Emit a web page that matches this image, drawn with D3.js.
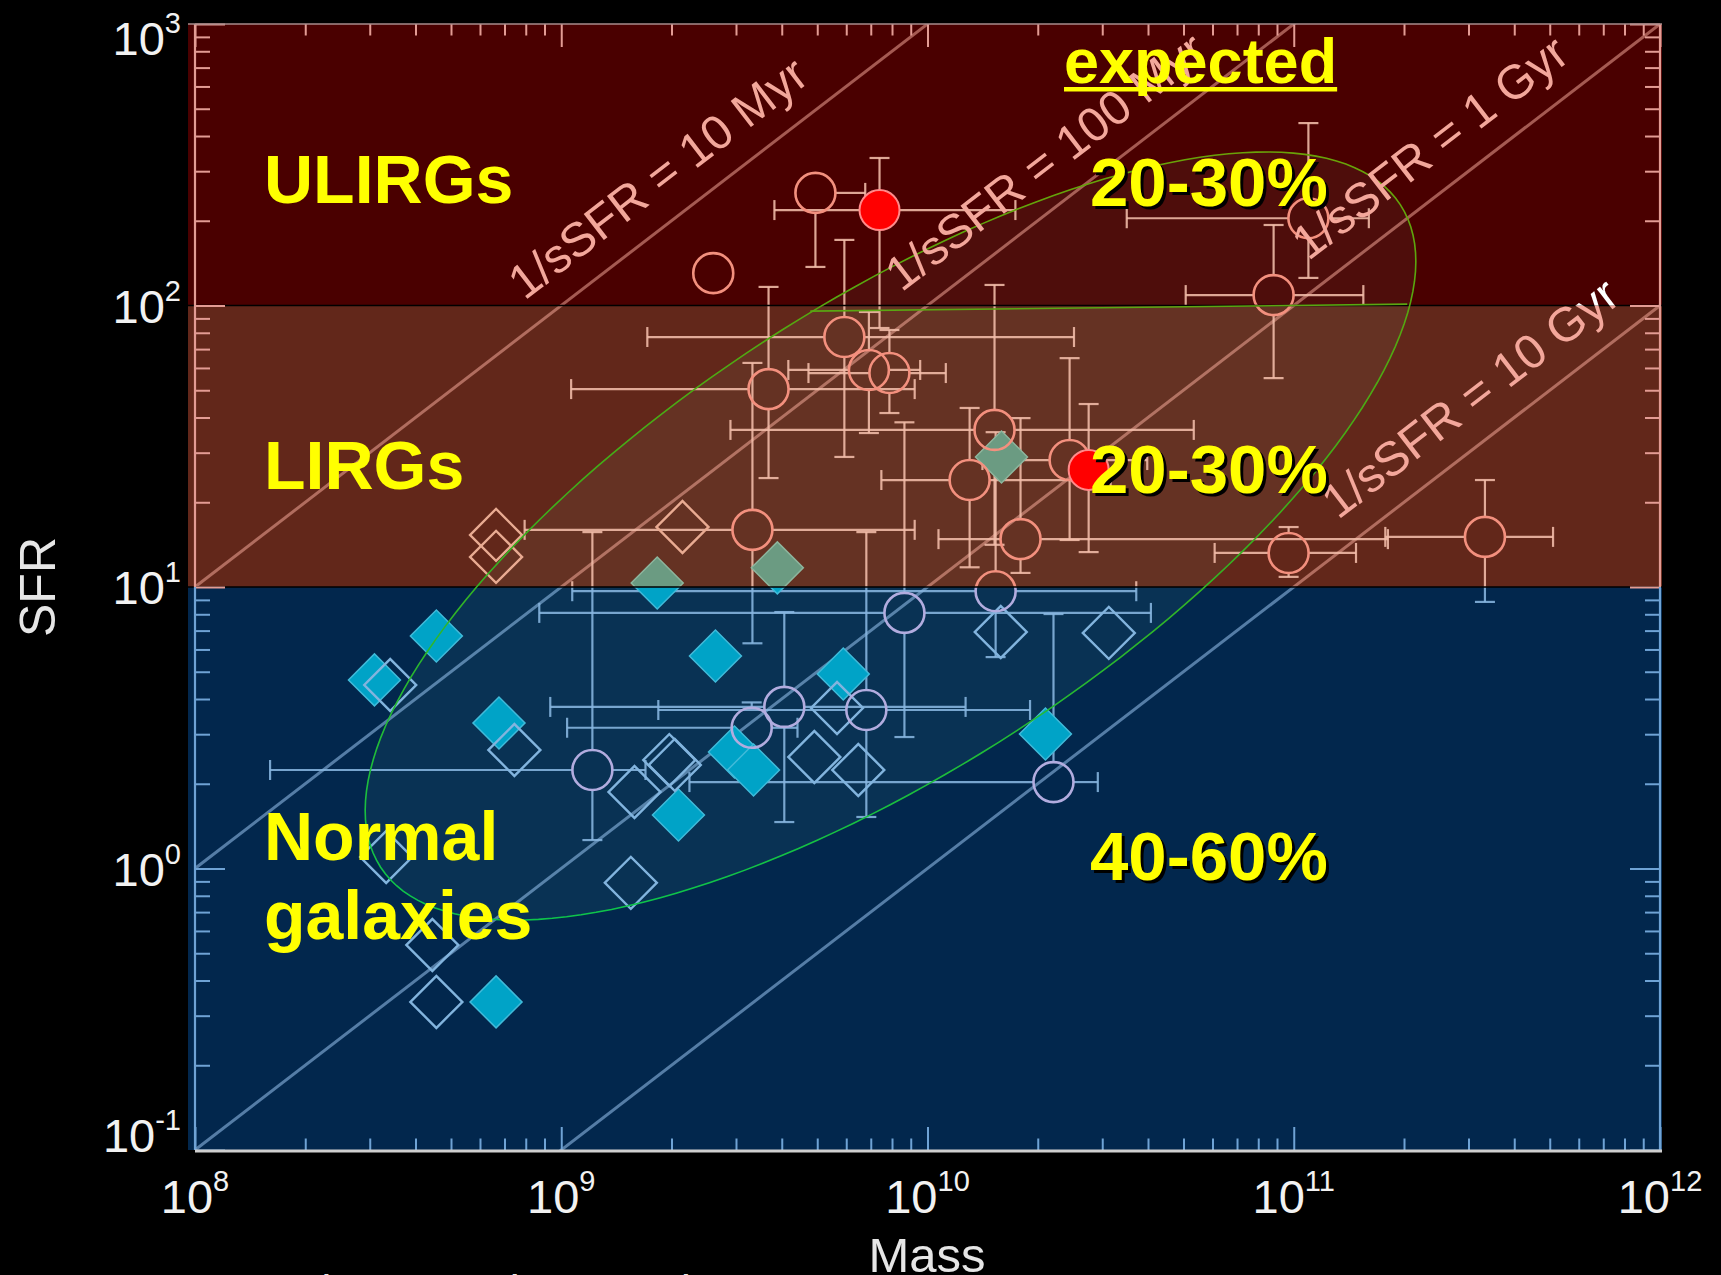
<!DOCTYPE html>
<html><head><meta charset="utf-8">
<script src="https://cdn.jsdelivr.net/npm/d3@7"></script>
<style>
html,body{margin:0;padding:0;background:#000;}
svg{display:block;}
</style></head><body>
<svg id="chart" width="1721" height="1275"></svg>
<script>
// ---------------- DATA ----------------
const massTicks = [1e8, 1e9, 1e10, 1e11, 1e12];
const massTickExp = ["8", "9", "10", "11", "12"];
const sfrTicks = [0.1, 1, 10, 100, 1000];
const sfrTickExp = ["-1", "0", "1", "2", "3"];

const bandNames = ["ULIRGs", "LIRGs", "Normal galaxies"];
const bandLimits = [[100, 1000], [10, 100], [0.1, 10]];
const bandExpected = ["20-30%", "20-30%", "40-60%"];

// 1/sSFR timescales (yr) and labels
const timescales = [1e7, 1e8, 1e9, 1e10];
const timescaleLabels = ["1/sSFR = 10 Myr", "1/sSFR = 100 Myr", "1/sSFR = 1 Gyr", "1/sSFR = 10 Gyr"];
const timescaleLabelLogM = [8.943, 9.972, 11.083, 11.164];

// open circles: [log M, log SFR, log M lo, log M hi, log SFR lo, log SFR hi]
const openCircles = [
  [9.415, 2.115, null, null, null, null],
  [9.694, 2.400, null, 9.83, 2.137, null],
  [10.945, 2.037, 10.705, 11.19, 1.742, 2.286],
  [11.040, 2.310, 10.544, 11.205, 2.098, 2.648],
  [9.773, 1.888, 9.235, 10.40, 1.462, 2.233],
  [9.566, 1.703, 9.027, 9.965, 1.387, 2.066],
  [9.840, 1.771, 9.62, 9.98, 1.547, 1.977],
  [9.896, 1.760, 9.675, 10.05, 1.618, 1.913],
  [10.183, 1.558, 9.462, 10.727, 1.15, 2.073],
  [10.186, 0.985, 9.03, 10.57, 0.751, 1.55],
  [9.937, 0.908, 8.94, 10.61, 0.467, 1.585],
  [9.522, 1.203, 8.90, 9.965, 0.80, 1.796],
  [10.115, 1.380, 9.874, 10.5, 1.07, 1.636],
  [10.388, 1.451, 10.15, 10.6, 1.167, 1.813],
  [10.254, 1.170, 10.03, 11.257, 1.05, 1.6],
  [10.986, 1.121, 10.784, 11.17, 1.036, 1.213],
  [11.522, 1.178, 11.25, 11.708, 0.947, 1.38],
  [9.085, 0.350, 8.205, 9.23, 0.101, 1.195],
  [9.609, 0.574, 8.97, 10.104, 0.165, 0.911],
  [9.520, 0.500, 9.016, 9.645, 0.41, 0.59],
  [9.833, 0.563, 9.265, 10.28, 0.183, 1.195],
  [10.344, 0.307, 9.35, 10.465, null, 0.904]
];
// filled (red) circles, same layout
const filledCircles = [
  [9.869, 2.339, 9.582, 10.24, 1.92, 2.524],
  [10.440, 1.416, null, null, 1.124, 1.65]
];
// open diamonds: [log M, log SFR]
const openDiamonds = [
  [8.822, 1.185], [8.822, 1.107], [9.331, 1.213],
  [8.533, 0.652], [8.872, 0.421], [8.522, 0.041], [8.648, -0.272], [8.659, -0.474],
  [9.190, -0.051], [9.200, 0.272], [9.295, 0.385], [9.310, 0.368], [9.691, 0.396],
  [9.811, 0.350], [9.753, 0.570], [10.200, 0.840], [10.495, 0.837]
];
// filled diamonds: [log M, log SFR]
const filledDiamonds = [
  [8.659, 0.826], [8.490, 0.670], [8.830, 0.517], [8.822, -0.474],
  [9.262, 1.014], [9.590, 1.068], [10.202, 1.462], [9.421, 0.755], [9.770, 0.691],
  [9.473, 0.414], [9.525, 0.350], [9.320, 0.190], [10.322, 0.478]
];
// selection ellipse (log M, log SFR of centre)
const ellipseCentre = [9.899, 1.181];

// ---------------- LAYOUT ----------------
const W = 1721, H = 1275;
const L = 195, R = 1660, T = 24, B = 1150;
const FONT = "'Liberation Sans', Arial, Helvetica, sans-serif";
const x = d3.scaleLog().domain([1e8, 1e12]).range([L, R]);
const y = d3.scaleLog().domain([0.1, 1000]).range([B, T]);
const P = v => Math.pow(10, v);

const svg = d3.select("#chart");
svg.append("rect").attr("width", W).attr("height", H).attr("fill", "#000");
const defs = svg.append("defs");
const yb = y(10), yu = y(100);
defs.append("clipPath").attr("id", "clipWarm").append("rect")
  .attr("x", L).attr("y", T).attr("width", R - L).attr("height", yb - T);
defs.append("clipPath").attr("id", "clipCool").append("rect")
  .attr("x", L).attr("y", yb).attr("width", R - L).attr("height", B - yb);
defs.append("clipPath").attr("id", "clipAboveU").append("rect")
  .attr("x", 0).attr("y", 0).attr("width", W).attr("height", yu);
defs.append("clipPath").attr("id", "clipBelowU").append("rect")
  .attr("x", 0).attr("y", yu).attr("width", W).attr("height", H - yu);
const grad = defs.append("linearGradient").attr("id", "ellGrad")
  .attr("gradientUnits", "userSpaceOnUse").attr("x1", 0).attr("x2", 0).attr("y1", 150).attr("y2", 900);
grad.append("stop").attr("offset", 0).attr("stop-color", "#6aa208");
grad.append("stop").attr("offset", 0.45).attr("stop-color", "#3fae18");
grad.append("stop").attr("offset", 1).attr("stop-color", "#0ec44a");

// bands
const bandColors = ["#4a0000", "#62271a", "#02274d"];
svg.selectAll("rect.band").data(bandLimits).join("rect").attr("class", "band")
  .attr("x", L - 7).attr("width", R - L + 9)
  .attr("y", d => y(d[1])).attr("height", d => y(d[0]) - y(d[1]))
  .attr("fill", (d, i) => bandColors[i]);

// ellipse geometry
const ecx = x(P(ellipseCentre[0])), ecy = y(P(ellipseCentre[1]));
const eA = 33 * Math.PI / 180, ea = 608, eb = 232;
const ellPts = d3.range(0, 361, 2).map(a => {
  const t = a * Math.PI / 180, u = ea * Math.cos(t), v = eb * Math.sin(t);
  return [ecx + u * Math.cos(eA) + v * Math.sin(eA), ecy - u * Math.sin(eA) + v * Math.cos(eA)];
});
const ellLine = d3.line().curve(d3.curveLinearClosed);
svg.append("path").attr("d", ellLine(ellPts)).attr("fill", "#a0ffe0").attr("fill-opacity", 0.05);

// ---------------- DATA LAYERS ----------------
const warm = {diag: "#ffb4a4", diagOp: 0.5, err: "#f2bdaa", circ: "#f3907e", od: "#e9ab92",
  fd: "#6b9b82", fdS: "#8db59d", fc: "#ff0000", fcS: "#ff8a8a"};
const cool = {diag: "#a8d4ff", diagOp: 0.5, err: "#88b6e0", circ: "#b2acdf", od: "#82b4de",
  fd: "#00a3c7", fdS: "#40bad9", fc: "#ff0000", fcS: "#ff8a8a"};
const rC = 20, cap = 10;

function errSegs(d) {
  const cx = x(P(d[0])), cy = y(P(d[1])), s = [];
  if (d[2] != null) { const e = x(P(d[2])); if (cx - e > rC) { s.push([e, cy, cx - rC, cy]); s.push([e, cy - cap, e, cy + cap]); } }
  if (d[3] != null) { const e = x(P(d[3])); if (e - cx > rC) { s.push([cx + rC, cy, e, cy]); s.push([e, cy - cap, e, cy + cap]); } }
  if (d[4] != null) { const e = y(P(d[4])); if (e - cy > rC) { s.push([cx, cy + rC, cx, e]); s.push([cx - cap, e, cx + cap, e]); } }
  if (d[5] != null) { const e = y(P(d[5])); if (cy - e > rC) { s.push([cx, e, cx, cy - rC]); s.push([cx - cap, e, cx + cap, e]); } }
  return s;
}
const allSegs = openCircles.concat(filledCircles).flatMap(errSegs);
const diamond = d3.symbol(d3.symbolSquare, 2 * 26 * 26);

function drawLayer(clipId, pal) {
  const g = svg.append("g").attr("clip-path", `url(#${clipId})`);
  g.selectAll("line.diag").data(timescales).join("line").attr("class", "diag")
    .attr("x1", x(1e8)).attr("y1", t => y(1e8 / t)).attr("x2", x(1e12)).attr("y2", t => y(1e12 / t))
    .attr("stroke", pal.diag).attr("stroke-opacity", pal.diagOp).attr("stroke-width", 3);
  g.append("g").selectAll("line").data(allSegs).join("line")
    .attr("x1", d => d[0]).attr("y1", d => d[1]).attr("x2", d => d[2]).attr("y2", d => d[3])
    .attr("stroke", pal.err).attr("stroke-opacity", 0.88).attr("stroke-width", 2.2);
  g.append("g").selectAll("path").data(filledDiamonds).join("path")
    .attr("d", diamond)
    .attr("transform", d => `translate(${x(P(d[0]))},${y(P(d[1]))}) rotate(45)`)
    .attr("fill", pal.fd).attr("stroke", pal.fdS).attr("stroke-width", 1.5);
  g.append("g").selectAll("path").data(openDiamonds).join("path")
    .attr("d", diamond)
    .attr("transform", d => `translate(${x(P(d[0]))},${y(P(d[1]))}) rotate(45)`)
    .attr("fill", "none").attr("stroke", pal.od).attr("stroke-width", 2.4);
  g.append("g").selectAll("circle").data(openCircles).join("circle")
    .attr("cx", d => x(P(d[0]))).attr("cy", d => y(P(d[1]))).attr("r", rC)
    .attr("fill", "none").attr("stroke", pal.circ).attr("stroke-width", 2.6);
  g.append("g").selectAll("circle").data(filledCircles).join("circle")
    .attr("cx", d => x(P(d[0]))).attr("cy", d => y(P(d[1]))).attr("r", rC)
    .attr("fill", pal.fc).attr("stroke", pal.fcS).attr("stroke-width", 2);
}
drawLayer("clipWarm", warm);
drawLayer("clipCool", cool);

// band boundaries
svg.selectAll("line.bound").data([100, 10]).join("line").attr("class", "bound")
  .attr("x1", L - 7).attr("x2", R + 2).attr("y1", d => y(d)).attr("y2", d => y(d))
  .attr("stroke", "#000").attr("stroke-width", 1.6);

// ---------------- AXES ----------------
const minorM = [], minorS = [];
for (let e = 8; e < 12; e++) for (let k = 2; k <= 9; k++) minorM.push(k * Math.pow(10, e));
for (let e = -1; e < 3; e++) for (let k = 2; k <= 9; k++) minorS.push(k * Math.pow(10, e));
const warmTick = "#e39c94", coolTick = "#6fa3d5";
const sCol = v => v >= 10 ? warmTick : coolTick;
function tidy(sel, col) {
  sel.select(".domain").remove();
  sel.selectAll(".tick text").remove();
  sel.selectAll(".tick line").attr("stroke", col).attr("stroke-width", 2);
}
// bottom
svg.append("g").attr("transform", `translate(0,${B})`)
  .call(d3.axisTop(x).tickValues(minorM).tickSize(11.5).tickFormat(""))
  .call(s => tidy(s, coolTick));
svg.append("g").attr("transform", `translate(0,${B})`)
  .call(d3.axisTop(x).tickValues(massTicks).tickSize(23).tickFormat(""))
  .call(s => tidy(s, coolTick));
// top
svg.append("g").attr("transform", `translate(0,${T})`)
  .call(d3.axisBottom(x).tickValues(minorM).tickSize(11.5).tickFormat(""))
  .call(s => tidy(s, warmTick));
svg.append("g").attr("transform", `translate(0,${T})`)
  .call(d3.axisBottom(x).tickValues(massTicks).tickSize(23).tickFormat(""))
  .call(s => tidy(s, warmTick));
// left
svg.append("g").attr("transform", `translate(${L},0)`)
  .call(d3.axisRight(y).tickValues(minorS).tickSize(15).tickFormat(""))
  .call(s => tidy(s, sCol));
svg.append("g").attr("transform", `translate(${L},0)`)
  .call(d3.axisRight(y).tickValues(sfrTicks).tickSize(30).tickFormat(""))
  .call(s => tidy(s, sCol));
// right
svg.append("g").attr("transform", `translate(${R},0)`)
  .call(d3.axisLeft(y).tickValues(minorS).tickSize(15).tickFormat(""))
  .call(s => tidy(s, sCol));
svg.append("g").attr("transform", `translate(${R},0)`)
  .call(d3.axisLeft(y).tickValues(sfrTicks).tickSize(30).tickFormat(""))
  .call(s => tidy(s, sCol));
// axis lines
[L, R].forEach(xx => {
  svg.append("line").attr("x1", xx).attr("x2", xx).attr("y1", T).attr("y2", yb).attr("stroke", warmTick).attr("stroke-width", 2.2);
  svg.append("line").attr("x1", xx).attr("x2", xx).attr("y1", yb).attr("y2", B).attr("stroke", coolTick).attr("stroke-width", 2.2);
});
svg.append("line").attr("x1", L - 7).attr("x2", R + 2).attr("y1", T).attr("y2", T).attr("stroke", "#a88c8c").attr("stroke-width", 1.5);
svg.append("line").attr("x1", L).attr("x2", R + 2).attr("y1", B + 1).attr("y2", B + 1).attr("stroke", "#cfcfcf").attr("stroke-width", 3);

// tick labels
const xl = svg.append("g").selectAll("text").data(massTicks).join("text")
  .attr("x", d => x(d)).attr("y", 1213).attr("text-anchor", "middle")
  .attr("font-family", FONT).attr("fill", "#f2f2f2");
xl.append("tspan").attr("font-size", 47).text("10");
xl.append("tspan").attr("font-size", 29).attr("dy", -22).text((d, i) => massTickExp[i]);
const yShift = v => v === 1000 ? 31 : (v === 0.1 ? 2 : 17);
const ylab = svg.append("g").selectAll("text").data(sfrTicks).join("text")
  .attr("x", 181).attr("y", d => y(d) + yShift(d)).attr("text-anchor", "end")
  .attr("font-family", FONT).attr("fill", "#f2f2f2");
ylab.append("tspan").attr("font-size", 47).text("10");
ylab.append("tspan").attr("font-size", 29).attr("dy", -22).text((d, i) => sfrTickExp[i]);

// axis titles
svg.append("text").attr("transform", "translate(55,587) rotate(-90)").attr("text-anchor", "middle")
  .attr("font-family", FONT).attr("font-size", 50).attr("fill", "#e6e6e6").text("SFR");
svg.append("text").attr("x", 927).attr("y", 1272).attr("text-anchor", "middle")
  .attr("font-family", FONT).attr("font-size", 49).attr("fill", "#e6e6e6").text("Mass");
svg.append("text").attr("x", 248).attr("y", 1306)
  .attr("font-family", FONT).attr("font-size", 44).attr("fill", "#e6e6e6").text("et al. 2009; Chary et al. 2010");

// ellipse outline + boundary segment
svg.append("path").attr("d", ellLine(ellPts)).attr("fill", "none")
  .attr("stroke", "url(#ellGrad)").attr("stroke-width", 1.6);
svg.append("line").attr("x1", x(P(9.68))).attr("y1", y(P(1.98))).attr("x2", x(P(11.31))).attr("y2", y(P(2.005)))
  .attr("stroke", "#5aa612").attr("stroke-width", 1.6);

// timescale labels
const ang = Math.atan2(y(1) - y(10), x(1e9) - x(1e8)) * 180 / Math.PI;
function tsLabel(i, col, clip) {
  const m = P(timescaleLabelLogM[i]);
  const holder = svg.append("g");
  if (clip) holder.attr("clip-path", `url(#${clip})`);
  holder.append("text")
    .attr("transform", `translate(${x(m)},${y(m / timescales[i])}) rotate(${-ang}) translate(0,-26)`)
    .attr("font-family", FONT).attr("font-size", 48).attr("fill", col).text(timescaleLabels[i]);
}
timescales.forEach((d, i) => {
  if (i === 3) { tsLabel(i, "#f3a79b", "clipBelowU"); tsLabel(i, "#ffffff", "clipAboveU"); }
  else tsLabel(i, "#f3a79b", null);
});

// region names
const nameG = svg.append("g").attr("font-family", FONT).attr("font-weight", "bold")
  .attr("font-size", 68).attr("fill", "#ffff00");
nameG.append("text").attr("x", 264).attr("y", 203).text(bandNames[0]);
nameG.append("text").attr("x", 264).attr("y", 489).text(bandNames[1]);
nameG.append("text").attr("x", 264).attr("y", 860).text(bandNames[2].split(" ")[0]);
nameG.append("text").attr("x", 264).attr("y", 939).text(bandNames[2].split(" ")[1]);

// expected
const ex = svg.append("text").attr("x", 1064).attr("y", 83).attr("font-family", FONT)
  .attr("font-weight", "bold").attr("font-size", 63).attr("fill", "#ffff00").text("expected");
const exW = ex.node().getComputedTextLength();
svg.append("rect").attr("x", 1064).attr("y", 87).attr("width", exW).attr("height", 4.5).attr("fill", "#ffff00");

// percentages with shadow
const pctY = [206, 493, 880];
bandExpected.forEach((s, i) => {
  svg.append("text").attr("x", 1093).attr("y", pctY[i] + 3).attr("font-family", FONT)
    .attr("font-weight", "bold").attr("font-size", 69).attr("fill", "#000").text(s);
  svg.append("text").attr("x", 1090).attr("y", pctY[i]).attr("font-family", FONT)
    .attr("font-weight", "bold").attr("font-size", 69).attr("fill", "#ffff00").text(s);
});
</script>
</body></html>
